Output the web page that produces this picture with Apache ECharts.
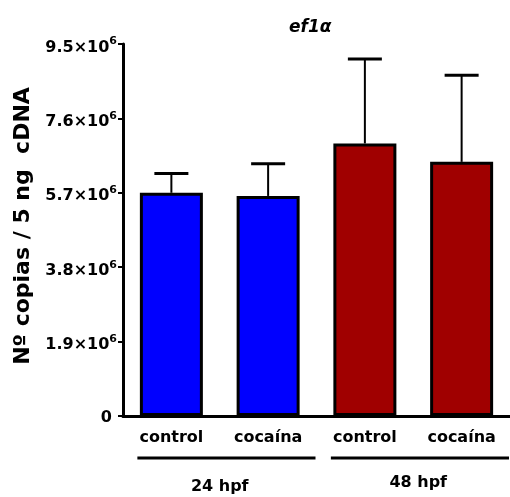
<!DOCTYPE html>
<html>
<head>
<meta charset="utf-8">
<script src="https://cdn.jsdelivr.net/npm/echarts@6/dist/echarts.min.js"></script>
<style>
html,body{margin:0;padding:0;background:#fff;}
#chart{width:510px;height:497px;}
</style>
</head>
<body>
<div id="chart"></div>
<script>
// ef1α copy number per 5 ng cDNA, mean + SD
const categories = ['control', 'cocaína', 'control', 'cocaína'];
const means = [5.70e6, 5.62e6, 6.96e6, 6.49e6];
const upperErrors = [6.19e6, 6.44e6, 9.12e6, 8.70e6];
const barColors = ['#0000FF', '#0000FF', '#A00000', '#A00000'];
const groupLabels = ['24 hpf', '48 hpf'];
const groupFrom = [0, 2];
const groupTo = [1, 3];
const tickValues = [0, 1.9e6, 3.8e6, 5.7e6, 7.6e6, 9.5e6];
const tickMantissas = ['0', '1.9', '3.8', '5.7', '7.6', '9.5'];

const FONT = '"DejaVu Sans", sans-serif';
const chart = echarts.init(document.getElementById('chart'), null, { renderer: 'canvas' });

function tickLabel(value) {
  const i = tickValues.findIndex(v => Math.abs(v - value) < 1);
  if (i < 0) return '';
  if (tickMantissas[i] === '0') return '{z|0}';
  return '{m|' + tickMantissas[i] + '×10}{e|6}';
}

const option = {
  animation: false,
  title: {
    text: 'ef1α',
    left: 284,
    top: 14,
    textStyle: { fontFamily: FONT, fontSize: 17, fontWeight: 'bold', fontStyle: 'italic', color: '#000' }
  },
  grid: { left: 123, right: -5, top: 44, bottom: 81, containLabel: false },
  xAxis: {
    type: 'category',
    data: categories,
    axisLine: { lineStyle: { color: '#000', width: 3 } },
    axisTick: { show: false },
    axisLabel: { margin: 14, fontFamily: FONT, fontSize: 16, fontWeight: 'bold', color: '#000' }
  },
  yAxis: {
    type: 'value',
    min: 0,
    max: 9.5e6,
    interval: 1.9e6,
    name: 'Nº copias / 5 ng  cDNA',
    nameLocation: 'middle',
    nameGap: 88,
    nameTextStyle: { fontFamily: FONT, fontSize: 22, fontWeight: 'bold', color: '#000', padding: [0, 0, 0, 8] },
    axisLine: { show: true, lineStyle: { color: '#000', width: 3 } },
    axisTick: { show: true, length: 5, lineStyle: { color: '#000', width: 2 } },
    splitLine: { show: false },
    axisLabel: {
      margin: 6,
      formatter: tickLabel,
      rich: {
        // mantissa sits a little below the tick, exponent is raised above it
        m: { fontFamily: FONT, fontSize: 16, fontWeight: 'bold', color: '#000', lineHeight: 16, padding: [7, 0, 0, 0] },
        e: { fontFamily: FONT, fontSize: 11, fontWeight: 'bold', color: '#000', lineHeight: 11, padding: [0, 0, 5, 0] },
        z: { fontFamily: FONT, fontSize: 16, fontWeight: 'bold', color: '#000', padding: [4, 5, 0, 0] }
      }
    }
  },
  series: [
    {
      type: 'bar',
      barWidth: 63,
      data: means.map((v, i) => ({
        value: v,
        itemStyle: { color: barColors[i], borderColor: '#000', borderWidth: 3 }
      })),
      z: 2
    },
    {
      // upward error whiskers with caps
      type: 'custom',
      z: 1,
      data: means.map((v, i) => [i, v, upperErrors[i]]),
      renderItem: function (params, api) {
        const top = api.coord([api.value(0), api.value(2)]);
        const base = api.coord([api.value(0), api.value(1)]);
        const capHalf = 17;
        return {
          type: 'group',
          children: [
            { type: 'line', shape: { x1: top[0], y1: top[1], x2: base[0], y2: base[1] }, style: { stroke: '#000', lineWidth: 2 } },
            { type: 'line', shape: { x1: top[0] - capHalf, y1: top[1], x2: top[0] + capHalf, y2: top[1] }, style: { stroke: '#000', lineWidth: 3 } }
          ]
        };
      }
    },
    {
      // group brackets and time-point labels under the category labels
      type: 'custom',
      clip: false,
      silent: true,
      data: groupLabels.map((g, i) => [groupFrom[i], groupTo[i]]),
      renderItem: function (params, api) {
        const i = params.dataIndex;
        const a = api.coord([groupFrom[i], 0]);
        const b = api.coord([groupTo[i], 0]);
        const band = api.size([1, 0])[0];
        const x1 = a[0] - 34;
        const x2 = b[0] + band / 2 - 1;
        const y = a[1] + 42;
        return {
          type: 'group',
          children: [
            { type: 'line', shape: { x1: x1, y1: y, x2: x2, y2: y }, style: { stroke: '#000', lineWidth: 3 } },
            {
              type: 'text',
              style: {
                text: groupLabels[i],
                x: (a[0] + b[0]) / 2 + (i === 0 ? 0 : 5),
                y: y + (i === 0 ? 29 : 25),
                align: 'center',
                verticalAlign: 'middle',
                font: 'bold 16px ' + FONT,
                fill: '#000'
              }
            }
          ]
        };
      }
    }
  ]
};

chart.setOption(option);
</script>
</body>
</html>
